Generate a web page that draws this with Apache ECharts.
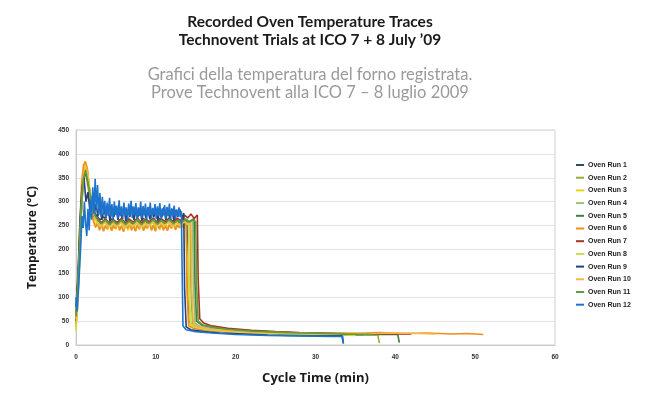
<!DOCTYPE html>
<html><head><meta charset="utf-8">
<script src="https://cdn.jsdelivr.net/npm/echarts@6/dist/echarts.min.js"></script>
<style>html,body{margin:0;padding:0;background:#fff}#c{width:656px;height:397px}</style>
</head><body><div id="c"></div>
<script>
const xTicks = [0,10,20,30,40,50,60];
const yTicks = [0,50,100,150,200,250,300,350,400,450];
const runNames = ['Oven Run 1','Oven Run 2','Oven Run 3','Oven Run 4','Oven Run 5','Oven Run 6','Oven Run 7','Oven Run 8','Oven Run 9','Oven Run 10','Oven Run 11','Oven Run 12'];
const runColors = ['#34495e','#9aaa3a','#e8d31a','#9cc27a','#3f7f3f','#f28c1a','#a8321e','#c9dc4e','#24407e','#f5b54a','#5e9e3c','#1e74cc'];
const titleText = 'Recorded Oven Temperature Traces\nTechnovent Trials at ICO 7 + 8 July \u201909';
const subtitleText = 'Grafici della temperatura del forno registrata.\nProve Technovent alla ICO 7 \u2013 8 luglio 2009';

const run1 = [[0,55],[0.3,140],[0.6,270],[0.9,350],[1.2,365],[1.5,340],[1.8,300],[2.2,280],[2.6,270],[3,262],[3.5,268],[4,256],[4.5,264],[5,254],[5.5,262],[6,256],[6.5,266],[7,254],[7.5,262],[8,257],[8.5,265],[9,253],[9.5,263],[10,256],[10.5,265],[11,255],[11.5,263],[12,257],[12.5,266],[13,255],[13.5,262],[13.9,258],[14.0,130],[14.2,48],[14.8,40],[16,35],[18,31],[20,28],[23,26],[26,24],[29,23],[32,22],[36,21]];
const run2 = [[0,45],[0.3,120],[0.6,250],[0.9,340],[1.2,368],[1.5,345],[1.9,295],[2.3,270],[2.7,258],[3,252],[3.5,260],[4,248],[4.5,257],[5,250],[5.5,258],[6,247],[6.5,256],[7,250],[7.5,259],[8,248],[8.5,256],[9,251],[9.5,260],[10,249],[10.5,257],[11,251],[11.5,259],[12,248],[12.5,256],[13,252],[13.5,260],[14,254],[14.3,256],[14.4,120],[14.6,45],[15.2,38],[16.5,33],[18.5,30],[21,27],[24,25],[27,24],[30,23],[33,22],[36,21],[37.8,21],[38,4]];
const run3 = [[0,30],[0.2,80],[0.5,230],[0.8,340],[1.1,385],[1.4,372],[1.7,330],[2.0,290],[2.25,262],[2.5,250],[2.75,258],[3.0,244],[3.25,254],[3.5,241],[3.75,252],[4.0,245],[4.25,256],[4.5,240],[4.75,250],[5.0,243],[5.25,255],[5.5,241],[5.75,252],[6.0,246],[6.25,257],[6.5,240],[6.75,250],[7.0,244],[7.25,255],[7.5,239],[7.75,251],[8.0,245],[8.25,256],[8.5,241],[8.75,250],[9.0,246],[9.25,257],[9.5,240],[9.75,252],[10.0,244],[10.25,255],[10.5,242],[10.75,251],[11.0,246],[11.25,256],[11.5,241],[11.75,252],[12.0,245],[12.25,256],[12.5,242],[12.75,252],[13.0,247],[13.25,257],[13.5,244],[13.75,254],[14,250],[14.1,110],[14.3,42],[15,36],[16.5,32],[18.5,29],[21,26],[24,24],[27,23],[30,22],[33,21],[35,20]];
const run4 = [[0,70],[0.3,160],[0.6,280],[0.9,345],[1.2,360],[1.6,320],[2.0,285],[2.4,270],[2.8,262],[3.2,256],[3.7,264],[4.2,255],[4.7,262],[5.2,254],[5.7,263],[6.2,256],[6.7,264],[7.2,253],[7.7,261],[8.2,256],[8.7,265],[9.2,254],[9.7,262],[10.2,257],[10.7,264],[11.2,255],[11.7,262],[12.2,256],[12.7,264],[13.2,257],[13.7,263],[14.2,258],[14.6,260],[14.7,125],[14.9,46],[15.5,39],[17,34],[19,30],[22,27],[25,25],[28,23],[31,22],[34,21]];
const run5 = [[0,65],[0.3,150],[0.6,275],[0.9,350],[1.2,370],[1.6,335],[2.0,292],[2.4,272],[2.8,260],[3.2,253],[3.7,261],[4.2,252],[4.7,259],[5.2,250],[5.7,260],[6.2,253],[6.7,261],[7.2,250],[7.7,258],[8.2,253],[8.7,262],[9.2,251],[9.7,259],[10.2,254],[10.7,262],[11.2,252],[11.7,260],[12.2,254],[12.7,262],[13.2,255],[13.7,264],[14.2,258],[14.8,265],[14.9,130],[15.1,50],[15.7,42],[17,37],[19,33],[22,29],[25,27],[28,25],[31,24],[34,23],[37,22],[40.3,22],[40.5,5]];
const run6 = [[0,40],[0.2,100],[0.45,240],[0.7,340],[0.95,378],[1.2,383],[1.45,365],[1.7,320],[1.95,280],[2.2,258],[2.45,246],[2.7,255],[2.95,240],[3.2,252],[3.45,238],[3.7,250],[3.95,242],[4.2,255],[4.45,239],[4.7,251],[4.95,243],[5.2,256],[5.45,240],[5.7,249],[5.95,237],[6.2,252],[6.45,244],[6.7,257],[6.95,240],[7.2,250],[7.45,238],[7.7,253],[7.95,242],[8.2,255],[8.45,239],[8.7,250],[8.95,244],[9.2,256],[9.45,240],[9.7,251],[9.95,238],[10.2,254],[10.45,243],[10.7,256],[10.95,240],[11.2,250],[11.45,239],[11.7,253],[11.95,244],[12.2,257],[12.45,241],[12.7,252],[12.95,245],[13.2,258],[13.45,246],[13.7,255],[13.8,250],[13.9,115],[14.1,40],[14.7,35],[16,31],[18,28],[20,26],[23,25],[26,24],[29,24],[32,25],[35,23],[38,26],[41,24],[44,25],[47,23],[49,24],[51,22]];
const run7 = [[0,50],[0.3,130],[0.6,260],[0.9,345],[1.2,362],[1.6,330],[2.0,290],[2.4,270],[2.8,262],[3.2,256],[3.7,264],[4.2,254],[4.7,262],[5.2,256],[5.7,265],[6.2,255],[6.7,263],[7.2,257],[7.7,266],[8.2,255],[8.7,263],[9.2,258],[9.7,266],[10.2,256],[10.7,264],[11.2,258],[11.7,266],[12.2,257],[12.7,265],[13.2,260],[13.6,272],[14,266],[14.4,274],[14.8,265],[15.2,272],[15.3,140],[15.5,55],[16,46],[17,40],[19,35],[22,31],[25,28],[28,26],[31,25],[34,24],[37,24],[40,23],[42,23]];
const run8 = [[0,35],[0.3,110],[0.6,255],[0.9,350],[1.2,375],[1.5,355],[1.9,300],[2.3,268],[2.7,255],[3.1,248],[3.6,256],[4.1,246],[4.6,254],[5.1,247],[5.6,256],[6.1,245],[6.6,253],[7.1,248],[7.6,256],[8.1,246],[8.6,254],[9.1,249],[9.6,257],[10.1,247],[10.6,255],[11.1,249],[11.6,257],[12.1,247],[12.6,254],[13.1,250],[13.6,256],[14.1,252],[14.2,110],[14.4,44],[15,37],[16.5,32],[18.5,29],[21,26],[24,24],[27,23],[30,22],[33,21]];
const run9 = [[0,80],[0.25,150],[0.5,260],[0.75,330],[1.0,350],[1.25,300],[1.5,320],[1.75,280],[2.0,310],[2.25,268],[2.5,295],[2.75,270],[3.0,290],[3.25,262],[3.5,285],[3.75,266],[4.0,288],[4.25,260],[4.5,284],[4.75,268],[5.0,290],[5.25,262],[5.5,282],[5.75,266],[6.0,287],[6.25,260],[6.5,283],[6.75,268],[7.0,289],[7.25,262],[7.5,281],[7.75,267],[8.0,286],[8.25,261],[8.5,284],[8.75,266],[9.0,288],[9.25,263],[9.5,282],[9.75,268],[10.0,286],[10.25,261],[10.5,283],[10.75,267],[11.0,288],[11.25,262],[11.5,281],[11.75,266],[12.0,285],[12.25,262],[12.5,282],[12.75,268],[13.0,284],[13.25,266],[13.5,276],[13.6,120],[13.8,38],[14.4,32],[16,28],[18,25],[21,23],[24,21],[27,20],[30,19],[33.3,19],[33.5,3]];
const run10 = [[0,55],[0.3,140],[0.6,265],[0.9,350],[1.2,372],[1.5,350],[1.9,298],[2.3,268],[2.7,257],[3.1,250],[3.6,258],[4.1,248],[4.6,256],[5.1,249],[5.6,258],[6.1,247],[6.6,255],[7.1,250],[7.6,258],[8.1,248],[8.6,256],[9.1,251],[9.6,259],[10.1,249],[10.6,257],[11.1,251],[11.6,259],[12.1,249],[12.6,256],[13.1,252],[13.6,258],[14.1,253],[14.4,256],[14.5,120],[14.7,45],[15.3,38],[16.8,33],[19,30],[22,27],[25,26],[28,25],[31,24],[34,25],[37,24],[40,25],[43,24],[45,23]];
const run11 = [[0,60],[0.3,145],[0.6,270],[0.9,348],[1.2,366],[1.6,332],[2.0,290],[2.4,270],[2.8,260],[3.2,254],[3.7,262],[4.2,252],[4.7,260],[5.2,253],[5.7,262],[6.2,252],[6.7,260],[7.2,254],[7.7,263],[8.2,252],[8.7,260],[9.2,255],[9.7,263],[10.2,253],[10.7,261],[11.2,255],[11.7,263],[12.2,254],[12.7,261],[13.2,256],[13.7,263],[14.2,257],[14.7,262],[15.0,258],[15.1,130],[15.3,50],[15.9,42],[17.2,37],[19,33],[22,29],[25,27],[28,25],[31,24],[34,23],[37,22]];
const run12 = [[0,100],[0.15,70],[0.3,115],[0.45,160],[0.6,210],[0.75,270],[0.9,245],[1.05,300],[1.2,255],[1.35,228],[1.5,285],[1.65,240],[1.8,305],[1.95,262],[2.1,330],[2.25,275],[2.4,348],[2.55,285],[2.7,335],[2.85,272],[3.0,318],[3.15,268],[3.3,310],[3.45,276],[3.6,302],[3.75,265],[3.9,298],[4.05,270],[4.2,308],[4.35,268],[4.5,295],[4.65,262],[4.8,300],[4.95,272],[5.1,292],[5.25,266],[5.4,303],[5.55,270],[5.7,290],[5.85,264],[6.0,298],[6.15,272],[6.3,288],[6.45,262],[6.6,296],[6.75,270],[6.9,302],[7.05,266],[7.2,290],[7.35,272],[7.5,297],[7.65,264],[7.8,288],[7.95,270],[8.1,300],[8.25,266],[8.4,291],[8.55,272],[8.7,296],[8.85,262],[9.0,289],[9.15,270],[9.3,298],[9.45,265],[9.6,287],[9.75,273],[9.9,295],[10.05,264],[10.2,290],[10.35,270],[10.5,297],[10.65,263],[10.8,286],[10.95,271],[11.1,293],[11.25,265],[11.4,289],[11.55,270],[11.7,296],[11.85,262],[12.0,286],[12.15,270],[12.3,292],[12.45,264],[12.6,284],[12.75,270],[12.9,288],[13.05,268],[13.2,280],[13.3,150],[13.4,40],[13.8,32],[15,28],[17,25],[20,22],[24,20],[28,19],[32,18],[33.4,18],[33.5,4]];

const runs = [run1,run2,run3,run4,run5,run6,run7,run8,run9,run10,run11,run12];

const chart = echarts.init(document.getElementById('c'));
chart.setOption({
  animation: false,
  backgroundColor: '#fff',
  graphic: [
    { type: 'text', x: 310, y: 13, style: { text: titleText, align: 'center', verticalAlign: 'top',
      fontFamily: 'Lato', fontSize: 15.5, fontWeight: 'bold', fill: '#1a1a1a', lineHeight: 18 } },
    { type: 'text', x: 310, y: 66, style: { text: subtitleText, align: 'center', verticalAlign: 'top',
      fontFamily: 'Lato', fontSize: 16.5, fontWeight: 'normal', fill: '#9a9a9a', lineHeight: 18 } }
  ],
  grid: { left: 76, right: 101, top: 130, bottom: 52, show: true, borderColor: '#d0d0d0', borderWidth: 1 },
  legend: {
    orient: 'vertical', left: 576, top: 161, itemGap: 4.7, itemWidth: 8, itemHeight: 2, icon: 'rect', padding: 0,
    textStyle: { fontFamily: 'Liberation Sans', fontSize: 7, fontWeight: 'bold', color: '#222', lineHeight: 8, padding: [0,0,0,-1] },
    data: runNames
  },
  xAxis: {
    type: 'value', min: xTicks[0], max: xTicks[xTicks.length-1], interval: 10,
    name: 'Cycle Time (min)', nameLocation: 'middle', nameGap: 27,
    nameTextStyle: { fontFamily: 'Open Sans', fontSize: 13, fontWeight: 'bold', color: '#1a1a1a' },
    axisLine: { show: true, lineStyle: { color: '#c8c8c8' } },
    axisTick: { show: false },
    splitLine: { show: false },
    axisLabel: { fontFamily: 'Liberation Sans', fontSize: 6.5, fontWeight: 'bold', color: '#333', margin: 9 }
  },
  yAxis: {
    type: 'value', min: yTicks[0], max: yTicks[yTicks.length-1], interval: 50,
    name: 'Temperature (\u00B0C)', nameLocation: 'middle', nameGap: 37, nameRotate: 90,
    nameTextStyle: { fontFamily: 'Open Sans', fontSize: 12, fontWeight: 'bold', color: '#1a1a1a' },
    axisLine: { show: true, lineStyle: { color: '#c8c8c8' } },
    axisTick: { show: false },
    splitLine: { show: true, lineStyle: { color: '#e2e2e2' } },
    axisLabel: { fontFamily: 'Liberation Sans', fontSize: 6.5, fontWeight: 'bold', color: '#333', margin: 7 }
  },
  series: runs.map((d, i) => ({
    name: runNames[i], type: 'line', data: d, showSymbol: false, symbol: 'none',
    color: runColors[i], lineStyle: { width: 1.6, color: runColors[i] }
  }))
});
</script></body></html>
